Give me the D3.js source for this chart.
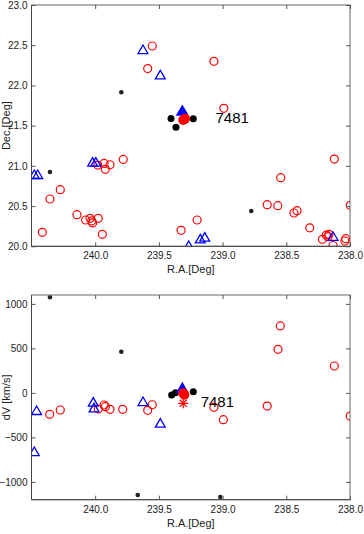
<!DOCTYPE html>
<html><head><meta charset="utf-8">
<script src="https://cdn.jsdelivr.net/npm/d3@7"></script>
<style>body{margin:0;background:#fff}svg{display:block}text{font-family:"Liberation Sans",Arial,sans-serif}</style>
</head><body>
<svg id="c" width="364" height="534"></svg>
<script>
// ---- Top panel (Dec vs RA) ----
const topRedOpen = [
 [239.552,22.49],[239.588,22.21],[239.068,22.30],[238.99,21.715],
 [239.78,21.08],[239.98,21.01],[239.93,21.03],[239.92,20.957],[239.884,21.014],
 [240.274,20.704],[240.355,20.588],[240.143,20.393],[240.075,20.327],[240.04,20.348],
 [240.027,20.315],[240.02,20.29],[239.976,20.348],[240.415,20.174],[239.944,20.149],
 [239.326,20.199],[239.2,20.327],[238.65,20.517],[238.567,20.505],[238.544,20.853],
 [238.44,20.414],[238.416,20.443],[238.316,20.23],[238.217,20.087],[238.186,20.14],
 [238.173,20.12],[238.165,20.149],[238.123,21.085],[238.133,20.01],[238.04,20.066],
 [238.034,20.095],[237.998,20.51]
];
const topBlueOpen = [
 [239.625,22.432],[239.489,22.117],[240.478,20.878],[240.451,20.878],
 [240.02,21.032],[239.995,21.032],[239.175,20.078],[239.14,20.1],[239.266,19.995],[238.133,20.11]
];
const topBlackSmall = [[239.795,21.915],[240.355,20.924],[238.775,20.439]];
const topBlackBig = [[239.405,21.59],[239.366,21.48],[239.23,21.586]];
const topBlueFilled = [[239.316,21.67]];
const topRedFilled = [[239.309,21.57],[239.295,21.585]];

// ---- Bottom panel (dV vs RA) ----
const botRedOpen = [
 [238.547,752],[238.565,490],[238.123,302],[238.65,-148],[239.068,-162],[238.994,-301],
 [237.998,-260],[240.357,-241],[240.274,-192],[239.976,-181],[239.93,-136],[239.92,-155],
 [239.884,-184],[239.784,-184],[239.588,-196],[239.552,-133]
];
const botBlueOpen = [[240.46,-211],[240.478,-672],[240.015,-117],[240.009,-181],[239.625,-110],[239.489,-353]];
const botBlackSmall = [[240.355,1074],[239.795,463],[239.666,-1147],[239.018,-1170]];
const botBlackBig = [[239.4,-24],[239.37,2],[239.23,14]];
const botBlueFilled = [[239.316,40]];
const botRedFilled = [[239.309,-4],[239.3,-20]];
const botRedStar = [[239.309,-117]];

const xTicks = [240.0,239.5,239.0,238.5,238.0];
const topYTicks = [20.0,20.5,21.0,21.5,22.0,22.5,23.0];
const botYTicks = [-1000,-500,0,500,1000];
const label = "7481";
const labelTop = [239.056,21.53];
const labelBot = [239.172,-162];

const svg = d3.select("#c");
const L = 31.5, R = 350;

function panel(id, top, bottom, ydom, yticks, yfmt, ylab, data, lab, labPos){
  const x = d3.scaleLinear().domain([240.5,238.0]).range([L,R]);
  const y = d3.scaleLinear().domain(ydom).range([bottom,top]);
  const g = svg.append("g");
  g.append("clipPath").attr("id",id).append("rect").attr("x",L).attr("y",top).attr("width",R-L).attr("height",bottom-top);
  const m = g.append("g").attr("clip-path",`url(#${id})`);
  m.selectAll(null).data(data.redOpen).join("circle").attr("cx",d=>x(d[0])).attr("cy",d=>y(d[1])).attr("r",4)
    .attr("fill","none").attr("stroke","#ff0000").attr("stroke-width",1.2);
  const tri = d3.symbol().type(d3.symbolTriangle).size(42);
  m.selectAll(null).data(data.blueOpen).join("path").attr("d",tri).attr("transform",d=>`translate(${x(d[0])},${y(d[1])})`)
    .attr("fill","none").attr("stroke","#0000ff").attr("stroke-width",1.3);
  m.selectAll(null).data(data.blackSmall).join("circle").attr("cx",d=>x(d[0])).attr("cy",d=>y(d[1])).attr("r",2.3).attr("fill","#222");
  m.selectAll(null).data(data.blackBig).join("circle").attr("cx",d=>x(d[0])).attr("cy",d=>y(d[1])).attr("r",3.5).attr("fill","#000");
  const tri2 = d3.symbol().type(d3.symbolTriangle).size(75);
  m.selectAll(null).data(data.blueFilled).join("path").attr("d",tri2).attr("transform",d=>`translate(${x(d[0])},${y(d[1])})`).attr("fill","#0000ff");
  m.selectAll(null).data(data.redFilled).join("circle").attr("cx",d=>x(d[0])).attr("cy",d=>y(d[1])).attr("r",5).attr("fill","#ff0000");
  (data.redStar||[]).forEach(d=>{
    const cx=x(d[0]), cy=y(d[1]);
    for(let a=0;a<4;a++){
      const t=a*Math.PI/4, r=5;
      m.append("line").attr("x1",cx-r*Math.cos(t)).attr("y1",cy-r*Math.sin(t)).attr("x2",cx+r*Math.cos(t)).attr("y2",cy+r*Math.sin(t))
       .attr("stroke","#ff0000").attr("stroke-width",1.2);
    }
  });
  g.append("text").attr("x",x(labPos[0])).attr("y",y(labPos[1])).attr("font-size",15).attr("fill","#000").text(lab);
  g.append("rect").attr("x",L).attr("y",top).attr("width",R-L).attr("height",bottom-top).attr("fill","none").attr("stroke","#666").attr("stroke-width",1);
  g.append("line").attr("x1",L).attr("x2",L).attr("y1",top).attr("y2",bottom).attr("stroke","#444");
  g.append("line").attr("x1",L).attr("x2",R).attr("y1",bottom).attr("y2",bottom).attr("stroke","#444");
  const ax = d3.axisBottom(x).tickValues(xTicks).tickFormat(d3.format(".1f")).tickSizeInner(-4).tickSizeOuter(0).tickPadding(6);
  const gx = g.append("g").attr("transform",`translate(0,${bottom})`).call(ax);
  const axT = d3.axisTop(x).tickValues(xTicks).tickFormat("").tickSizeInner(-4).tickSizeOuter(0);
  const gxt = g.append("g").attr("transform",`translate(0,${top})`).call(axT);
  const ay = d3.axisLeft(y).tickValues(yticks).tickFormat(yfmt).tickSizeInner(-4).tickSizeOuter(0).tickPadding(4);
  const gy = g.append("g").attr("transform",`translate(${L},0)`).call(ay);
  const ayR = d3.axisRight(y).tickValues(yticks).tickFormat("").tickSizeInner(-4).tickSizeOuter(0);
  const gyr = g.append("g").attr("transform",`translate(${R},0)`).call(ayR);
  [gx,gxt,gy,gyr].forEach(a=>{a.select(".domain").remove();a.selectAll("line").attr("stroke","#555");
    a.selectAll("text").attr("font-size",10).attr("fill","#222").attr("font-family","'Liberation Sans',Arial,sans-serif");});
  g.append("text").attr("x",(L+R)/2).attr("y",bottom+27).attr("text-anchor","middle").attr("font-size",11).attr("fill","#222").text("R.A.[Deg]");
  g.append("text").attr("transform",`translate(10,${(top+bottom)/2}) rotate(-90)`).attr("text-anchor","middle").attr("font-size",11).attr("fill","#222").text(ylab);
}

panel("cp1",5,246.3,[20,23],topYTicks,d3.format(".1f"),"Dec.[Deg]",
  {redOpen:topRedOpen,blueOpen:topBlueOpen,blackSmall:topBlackSmall,blackBig:topBlackBig,blueFilled:topBlueFilled,redFilled:topRedFilled},label,labelTop);
panel("cp2",295,499.7,[-1200,1100],botYTicks,d3.format("d"),"dV [km/s]",
  {redOpen:botRedOpen,blueOpen:botBlueOpen,blackSmall:botBlackSmall,blackBig:botBlackBig,blueFilled:botBlueFilled,redFilled:botRedFilled,redStar:botRedStar},label,labelBot);
</script>
</body></html>
